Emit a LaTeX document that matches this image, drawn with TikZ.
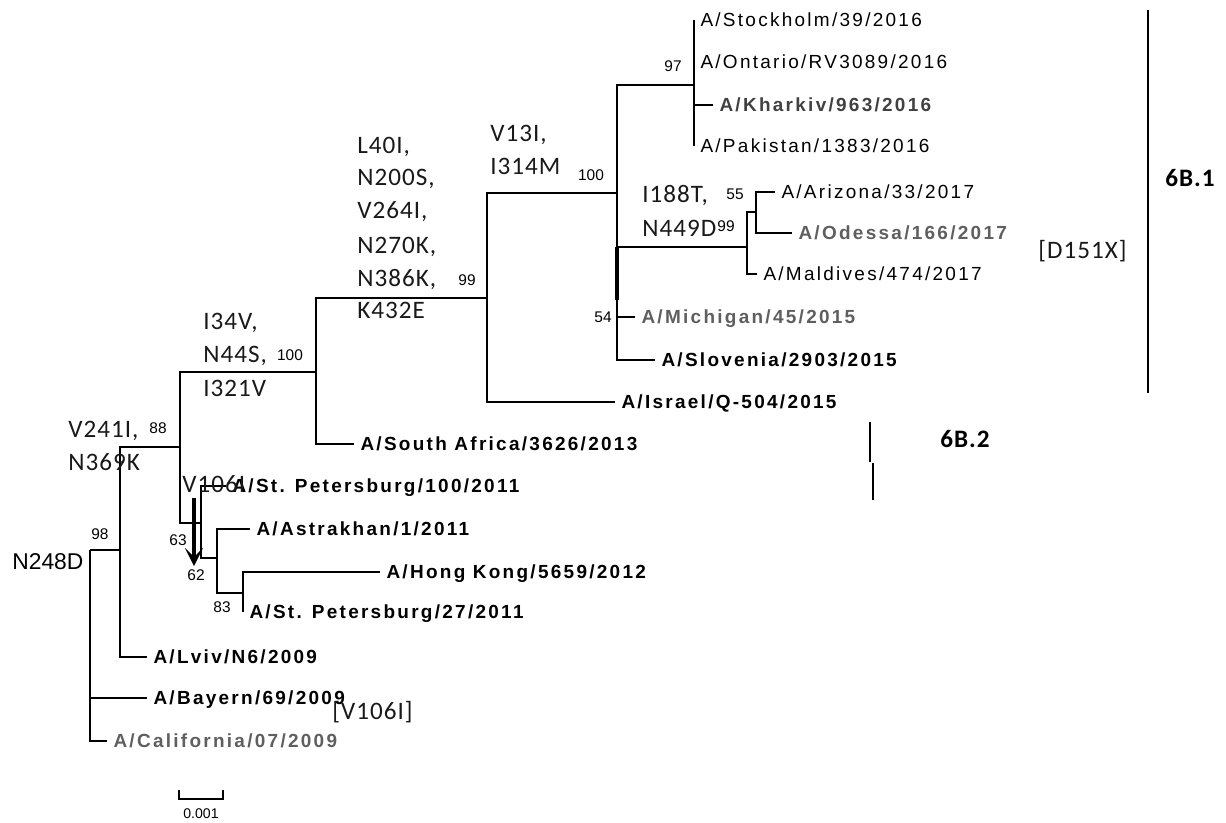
\documentclass[tikz,border=0pt]{standalone}
\usepackage{fontspec}
\usepackage{tikz}
\usetikzlibrary{arrows.meta, calc}
\newfontfamily\leaffont[LetterSpace=12]{Liberation Sans}
\newfontfamily\mutfont[LetterSpace=4]{Carlito}
\newfontfamily\numfont{Liberation Sans}
\definecolor{mygray}{RGB}{95,95,95}
\definecolor{mydgray}{RGB}{65,65,65}
\definecolor{mutcol}{RGB}{25,25,25}
\tikzset{
  br/.style={line width=0.8pt, color=black},
  leaf/.style={font=\leaffont\fontsize{10.8}{12}\selectfont, anchor=west, inner xsep=3.5pt,
    inner ysep=0pt, text height=8pt, text depth=1pt},
  leafb/.style={leaf, font=\leaffont\fontsize{10.8}{12}\selectfont\bfseries},
  mut/.style={font=\mutfont\fontsize{14.3}{17}\selectfont, anchor=west, inner sep=0pt,
    text height=10pt, text depth=1pt, text=mutcol}
}

\begin{document}
\begin{tikzpicture}[x=0.02cm, y=-0.02cm,
  boot/.style={font=\numfont\fontsize{8.8}{10}\selectfont, inner sep=0pt, text height=6pt, text depth=0pt},
  clade/.style={font=\mutfont\fontsize{14.3}{17}\selectfont\bfseries, anchor=west, inner sep=0pt, text height=10pt, text depth=1pt},
  arr/.style={-{Stealth[length=3.6mm, width=3.6mm, inset=1.8mm]}, line width=2pt}
]
\useasboundingbox (0,0) rectangle (1226,822);

%--- inner nodes of the tree ---
\coordinate (root) at (90,550);
\coordinate (nA) at (120,550);
\coordinate (nB) at (180,447);
\coordinate (nC) at (316,372);
\coordinate (nD) at (487,298);
\coordinate (nE) at (617,193);
\coordinate (nF) at (694,85);
\coordinate (nG) at (747,247);
\coordinate (nH) at (756,212);
\coordinate (nI) at (201,523);
\coordinate (nJ) at (217,558);
\coordinate (nK) at (243,593);
\coordinate (thk) at (617,300);

%--- leaves ---
\node[leaf]  (stock) at (694,20)  {A/Stockholm/39/2016};
\node[leaf]  (ont)   at (694,62)  {A/Ontario/RV3089/2016};
\node[leafb, text=mydgray] (khar) at (713,105) {A/Kharkiv/963/2016};
\node[leaf]  (pak)   at (694,146) {A/Pakistan/1383/2016};
\node[leaf]  (ariz)  at (775,192) {A/Arizona/33/2017};
\node[leafb, text=mygray] (odes) at (792,233) {A/Odessa/166/2017};
\node[leaf]  (mald)  at (757,274) {A/Maldives/474/2017};
\node[leafb, text=mygray] (mich) at (635,317) {A/Michigan/45/2015};
\node[leafb] (slov)  at (655,360) {A/Slovenia/2903/2015};
\node[leafb] (isr)   at (615,402) {A/Israel/Q-504/2015};
\node[leafb] (safr)  at (354,444) {A/South Africa/3626/2013};
\node[leafb] (stp1)  at (226,486) {A/St. Petersburg/100/2011};
\node[leafb] (astr)  at (250,529) {A/Astrakhan/1/2011};
\node[leafb] (hk)    at (380,572) {A/Hong Kong/5659/2012};
\node[leafb] (stp2)  at (243,612) {A/St. Petersburg/27/2011};
\node[leafb] (lviv)  at (147,657) {A/Lviv/N6/2009};
\node[leafb] (bay)   at (147,698) {A/Bayern/69/2009};
\node[leafb, text=mygray] (cal) at (107,741) {A/California/07/2009};

%--- branches ---
\draw[br] (root) -- (nA);
\draw[br] (root) |- (bay.west);
\draw[br] (root) |- (cal.west);
\draw[br] (nA) |- (nB);
\draw[br] (nA) |- (lviv.west);
\draw[br] (nB) |- (nC);
\draw[br] (nB) |- (nI);
\draw[br] (nC) |- (nD);
\draw[br] (nC) |- (safr.west);
\draw[br] (nD) |- (nE);
\draw[br] (nD) |- (isr.west);
\draw[br] (nE) |- (nF);
\draw[br] (nE) |- (nG);
\draw[br] (nE) |- (mich.west);
\draw[br] (nE) |- (slov.west);
\draw[br, line width=2pt] (nE |- nG) -- (thk);
\draw[br] (stock.west) -- (pak.west);
\draw[br] (nF) |- (khar.west);
\draw[br] (nG) |- (nH);
\draw[br] (nG) |- (mald.west);
\draw[br] (nH) |- (ariz.west);
\draw[br] (nH) |- (odes.west);
\draw[br] (nI) |- (stp1.west);
\draw[br] (nI) |- (nJ);
\draw[br] (nJ) |- (astr.west);
\draw[br] (nJ) |- (nK);
\draw[br] (nK) |- (hk.west);
\draw[br] (nK) |- (stp2.west);

%--- bootstrap values ---
\node[boot] (b97)   at (673,66)  {97};
\node[boot] (b100a) at (591,175) {100};
\node[boot] (b99a)  at (467,280) {99};
\node[boot] (b100b) at (290,355) {100};
\node[boot] (b88)   at (158,428) {88};
\node[boot] (b98)   at (100,534) {98};
\node[boot] (b55)   at (735,194) {55};
\node[boot] (b99b)  at (726,226) {99};
\node[boot] (b54)   at (603,317) {54};
\node[boot] (b63)   at (178,540) {63};
\node[boot] (b62)   at (196,575) {62};
\node[boot] (b83)   at (222,607) {83};

%--- mutations on the branches ---
\node[mut] (mE1) at (490,134) {V13I,};
\node[mut] (mE2) at (490,167) {I314M};
\node[mut] (mD1) at (357,146) {L40I,};
\node[mut] (mD2) at (357,178) {N200S,};
\node[mut] (mD3) at (357,211) {V264I,};
\node[mut] (mD4) at (357,246) {N270K,};
\node[mut] (mD5) at (357,279) {N386K,};
\node[mut] (mD6) at (357,311) {K432E};
\node[mut] (mC1) at (203,322) {I34V,};
\node[mut] (mC2) at (203,355) {N44S,};
\node[mut] (mC3) at (203,389) {I321V};
\node[mut] (mB1) at (68,430)  {V241I,};
\node[mut] (mB2) at (68,463)  {N369K};
\node[mut] (mG1) at (642,195) {I188T,};
\node[mut] (mG2) at (642,229) {N449D};
\node[mut] (mI)  at (182,485) {V106I};
\node[mut, font=\numfont\fontsize{13}{15}\selectfont, text=black] (mroot) at (12,562) {N248D};
\node[mut] (mV106) at (332,712) {[V106I]};
\node[mut] (mD151) at (1038,251) {[D151X]};

%--- V106I arrow ---
\coordinate (atop) at (194,498);
\coordinate (atip) at (194,566);
\draw[arr] (atop) -- (atip);

%--- clade bars ---
\coordinate (c1a) at (1148,10);
\coordinate (c1b) at (1148,393);
\draw[line width=0.9pt] (c1a) -- (c1b);
\node[clade] (c61) at (1165,179) {6B.1};
\coordinate (c2a) at (870,422);
\coordinate (c2b) at (870,462);
\coordinate (c2c) at (873,463);
\coordinate (c2d) at (873,500);
\draw[line width=0.9pt] (c2a) -- (c2b);
\draw[line width=0.9pt] (c2c) -- (c2d);
\node[clade] (c62) at (940,440) {6B.2};

%--- scale bar ---
\coordinate (sb1) at (179,790);
\coordinate (sb2) at (223,790);
\draw[br] (sb1) -- ++(0,9) -| (sb2);
\node[boot, font=\numfont\fontsize{8}{10}\selectfont] (sbl) at (201,813) {0.001};
\end{tikzpicture}
\end{document}
